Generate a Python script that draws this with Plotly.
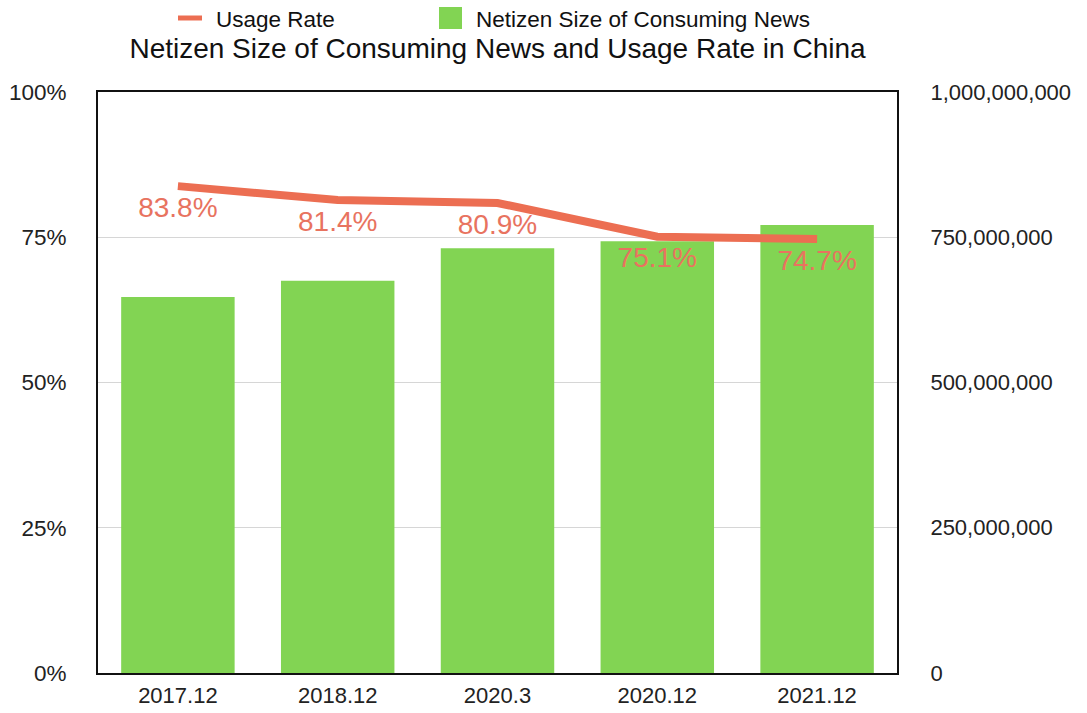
import plotly.graph_objects as go

periods = ["2017.12", "2018.12", "2020.3", "2020.12", "2021.12"]
netizens = [647_000_000, 675_000_000, 731_000_000, 743_000_000, 771_000_000]
usage_rate = [83.8, 81.4, 80.9, 75.1, 74.7]
pct_ticks = [0, 25, 50, 75, 100]
count_ticks = [0, 250_000_000, 500_000_000, 750_000_000, 1_000_000_000]

FONT = "Liberation Sans, Arial, Helvetica, sans-serif"
GREEN = "#82D453"
ORANGE = "#EC6E52"
LABEL = "#E8735F"

W, H = 1087, 713
L, R, T, B = 98, 897, 92, 673  # plot-area edges in pixels


def px_x(p):
    return (p - L) / (R - L)


def px_y(p):
    return (B - p) / (B - T)


fig = go.Figure()

# Netizen counts on the primary (right-hand) axis, drawn underneath
fig.add_trace(go.Bar(
    x=periods, y=netizens, name="Netizen Size of Consuming News",
    marker=dict(color=GREEN, line=dict(width=0)),
    width=0.71, yaxis="y",
))

# Usage rate on the overlaid percent axis, labelled under each point
fig.add_trace(go.Scatter(
    x=periods, y=usage_rate, name="Usage Rate", yaxis="y2",
    mode="lines+markers+text",
    line=dict(color=ORANGE, width=8),
    marker=dict(size=14, color="rgba(0,0,0,0)"),
    text=[f"{v:.1f}%" for v in usage_rate],
    textposition="bottom center",
    textfont=dict(color=LABEL, size=28, family=FONT),
))

# Hand-drawn legend across the top
shapes = [
    dict(type="line", xref="paper", yref="paper",
         x0=px_x(178), x1=px_x(202), y0=px_y(18), y1=px_y(18),
         line=dict(color=ORANGE, width=5)),
    dict(type="rect", xref="paper", yref="paper",
         x0=px_x(439), x1=px_x(462), y0=px_y(7), y1=px_y(29),
         fillcolor=GREEN, line=dict(width=0)),
]
annotations = [
    dict(text="Usage Rate", xref="paper", yref="paper",
         x=px_x(214), y=px_y(19), xanchor="left", yanchor="middle",
         showarrow=False, font=dict(size=22.5, color="#111", family=FONT)),
    dict(text="Netizen Size of Consuming News", xref="paper", yref="paper",
         x=px_x(474), y=px_y(19), xanchor="left", yanchor="middle",
         showarrow=False, font=dict(size=22.5, color="#111", family=FONT)),
]

fig.update_layout(
    width=W, height=H,
    margin=dict(l=L, r=W - R, t=T, b=H - B, autoexpand=False),
    paper_bgcolor="white", plot_bgcolor="white",
    font=dict(family=FONT, color="#222", size=22),
    title=dict(
        text="Netizen Size of Consuming News and Usage Rate in China",
        x=(L + R) / 2 / W, xanchor="center",
        y=1 - 48 / H, yanchor="middle",
        font=dict(size=28, color="#111", family=FONT),
    ),
    showlegend=False,
    shapes=shapes,
    annotations=annotations,
    xaxis=dict(
        showline=True, linecolor="#111", linewidth=2, mirror=True,
        ticks="outside", ticklen=2, tickcolor="rgba(0,0,0,0)",
        tickfont=dict(size=22), showgrid=False, automargin=False,
    ),
    yaxis=dict(
        side="right", range=[0, 1_000_000_000],
        tickvals=count_ticks, tickformat=",d",
        showgrid=True, gridcolor="#D6D6D6", gridwidth=1,
        showline=True, linecolor="#111", linewidth=2, mirror=True,
        ticks="outside", ticklen=27, tickcolor="rgba(0,0,0,0)",
        zeroline=False, tickfont=dict(size=22), automargin=False,
    ),
    yaxis2=dict(
        overlaying="y", side="left", range=[0, 100],
        tickvals=pct_ticks, ticktext=[f"{v}%" for v in pct_ticks],
        showgrid=False, zeroline=False, showline=False,
        ticks="outside", ticklen=26, tickcolor="rgba(0,0,0,0)",
        tickfont=dict(size=22.5), automargin=False,
    ),
)

fig.write_html("out.html")
